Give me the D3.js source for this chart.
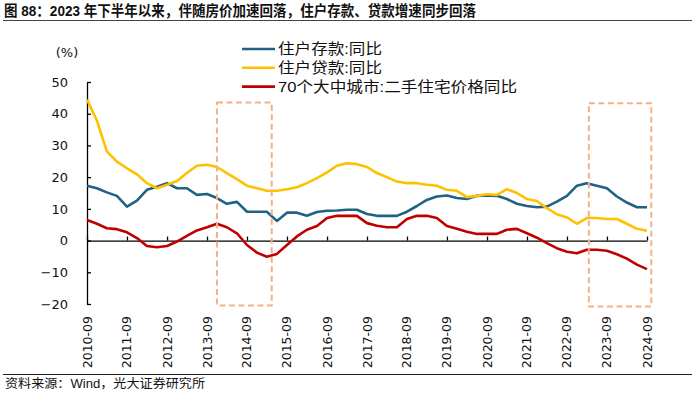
<!DOCTYPE html>
<html>
<head>
<meta charset="utf-8">
<script src="https://cdn.jsdelivr.net/npm/d3@7"></script>
<style>
body { margin: 0; background: #fff; }
svg { display: block; font-family: "Liberation Sans", "Noto Sans CJK SC", sans-serif; }
</style>
</head>
<body>
<svg width="692" height="396"></svg>
<script>
// quarterly, 2010-09 .. 2024-09
var parse = d3.timeParse("%Y-%m-%d");
var dates = d3.timeMonth.range(parse("2010-09-01"), parse("2024-09-02"), 3);

var deposit = [17.3,16.5,15.2,14.1,10.7,12.6,16.0,17.0,18.1,16.5,
    16.5,14.4,14.7,13.4,11.6,12.2,9.1,9.1,9.1,6.2,
    8.8,8.8,7.8,9.0,9.4,9.5,9.7,9.7,8.4,7.8,
    7.8,7.8,9.1,10.9,12.8,13.9,14.2,13.4,13.1,14.1,
    14.2,14.1,13.1,11.6,10.9,10.5,10.7,12.3,14.1,17.3,
    18.1,17.3,16.5,13.9,12.0,10.5,10.5];
var loans = [44.5,37.8,28.1,24.9,22.8,20.9,18.1,16.5,17.6,18.8,
    21.3,23.6,23.9,23.2,21.3,19.4,17.3,16.5,15.7,15.7,
    16.2,16.8,18.1,19.7,21.5,23.6,24.4,24.1,23.2,21.3,
    20.0,18.6,18.1,18.1,17.6,17.3,16.0,15.7,13.7,14.1,
    14.6,14.4,16.2,15.0,13.1,12.5,10.2,8.3,7.3,5.3,
    7.1,7.1,6.8,6.8,5.3,3.7,3.1];
var housePrice = [6.5,5.3,3.9,3.6,2.6,0.8,-1.7,-2.1,-1.7,-0.3,
    1.5,3.2,4.2,5.3,4.2,2.3,-1.4,-3.8,-5.1,-4.2,
    -1.4,1.3,3.4,4.6,7.1,7.8,7.8,7.8,5.5,4.7,
    4.2,4.2,6.8,7.8,7.8,7.1,4.6,3.7,2.8,2.1,
    2.1,2.1,3.4,3.7,2.3,0.9,-0.8,-2.4,-3.5,-4.0,
    -2.9,-2.9,-3.2,-4.3,-5.7,-7.6,-9.0];

var seriesNames = ["住户存款:同比", "住户贷款:同比", "70个大中城市:二手住宅价格同比"];
var seriesColors = ["#1f6283", "#ffc000", "#c00000"];
var legendWidths = [104, 104, 239];
var series = [deposit, loans, housePrice];

var yTicks = [50, 40, 30, 20, 10, 0, -10, -20];
var xTicks = d3.range(2010, 2025).map(function(y){ return parse(y + "-09-01"); });
// highlighted periods: [start, end, top, bottom]
var boxes = [
    ["2013-12-01", "2015-04-15", 43.5, -20.5],
    ["2023-03-20", "2024-10-10", 43.3, -20.8]
];

var svg = d3.select("svg");

var x = d3.scaleTime()
    .domain([parse("2010-09-01"), parse("2024-09-01")])
    .range([87, 647]);
var y = d3.scaleLinear()
    .domain([-20, 50])
    .range([304, 82]);

// title
svg.append("text")
    .attr("x", 4).attr("y", 15.5)
    .attr("font-size", 14.5).attr("font-weight", "bold")
    .attr("textLength", 472).attr("lengthAdjust", "spacingAndGlyphs")
    .attr("fill", "#111")
    .text("图 88：2023 年下半年以来，伴随房价加速回落，住户存款、贷款增速同步回落");
svg.append("line")
    .attr("x1", 3).attr("x2", 692).attr("y1", 20.5).attr("y2", 20.5)
    .attr("stroke", "#444").attr("stroke-width", 1.2);

// y axis
var yAxis = svg.append("g")
    .attr("transform", "translate(87,0)")
    .call(d3.axisLeft(y).tickValues(yTicks).tickSize(-4).tickSizeOuter(0).tickPadding(19));
yAxis.select(".domain").attr("stroke", "#000").attr("stroke-width", 1.3);
yAxis.selectAll(".tick line").attr("stroke", "#000").attr("stroke-width", 1.3);
yAxis.selectAll("text")
    .attr("font-family", "DejaVu Sans")
    .attr("font-size", 13).attr("fill", "#111");

svg.append("text")
    .attr("x", 67).attr("y", 57)
    .attr("text-anchor", "middle")
    .attr("font-family", "DejaVu Sans")
    .attr("font-size", 13).attr("fill", "#111")
    .text("(%)");

// x axis on zero line
var xAxis = svg.append("g")
    .attr("transform", "translate(0," + y(0) + ")")
    .call(d3.axisBottom(x).tickValues(xTicks).tickSize(-4).tickSizeOuter(0).tickFormat(""));
xAxis.select(".domain").attr("stroke", "#000").attr("stroke-width", 1.3);
xAxis.selectAll(".tick line").attr("stroke", "#000").attr("stroke-width", 1.3);

svg.selectAll(".xlab")
    .data(xTicks)
    .enter().append("text")
    .attr("class", "xlab")
    .attr("transform", function(d){ return "translate(" + x(d) + ",316) rotate(-90)"; })
    .attr("text-anchor", "end")
    .attr("dy", "0.36em")
    .attr("font-family", "DejaVu Sans")
    .attr("font-size", 12.5).attr("fill", "#111")
    .text(d3.timeFormat("%Y-%m"));

// lines
var line = d3.line()
    .x(function(d, i){ return x(dates[i]); })
    .y(function(d){ return y(d); });

series.forEach(function(s, k){
    svg.append("path")
        .datum(s)
        .attr("fill", "none")
        .attr("stroke", seriesColors[k])
        .attr("stroke-width", 2.6)
        .attr("stroke-linejoin", "round")
        .attr("d", line);
});

// dashed boxes
boxes.forEach(function(b){
    var x0 = x(parse(b[0])), x1 = x(parse(b[1]));
    svg.append("rect")
        .attr("x", x0).attr("y", y(b[2]))
        .attr("width", x1 - x0).attr("height", y(b[3]) - y(b[2]))
        .attr("fill", "none")
        .attr("stroke", "#f4b183")
        .attr("stroke-width", 2)
        .attr("stroke-dasharray", "6,3.5");
});

// legend
var legend = svg.selectAll(".leg")
    .data(seriesNames)
    .enter().append("g")
    .attr("class", "leg")
    .attr("transform", function(d, i){ return "translate(242," + (49 + i * 18.8) + ")"; });
legend.append("line")
    .attr("x1", 0).attr("x2", 33)
    .attr("stroke", function(d, i){ return seriesColors[i]; })
    .attr("stroke-width", 2.6);
legend.append("text")
    .attr("x", 36).attr("dy", "0.36em")
    .attr("font-size", 15).attr("fill", "#111")
    .attr("textLength", function(d, i){ return legendWidths[i]; })
    .attr("lengthAdjust", "spacingAndGlyphs")
    .text(function(d){ return d; });

// source
svg.append("line")
    .attr("x1", 3).attr("x2", 692).attr("y1", 374.5).attr("y2", 374.5)
    .attr("stroke", "#222").attr("stroke-width", 1.2);
svg.append("text")
    .attr("x", 5).attr("y", 388)
    .attr("font-size", 12.5)
    .attr("textLength", 200).attr("lengthAdjust", "spacingAndGlyphs")
    .attr("fill", "#111")
    .text("资料来源：Wind，光大证券研究所");
</script>
</body>
</html>
